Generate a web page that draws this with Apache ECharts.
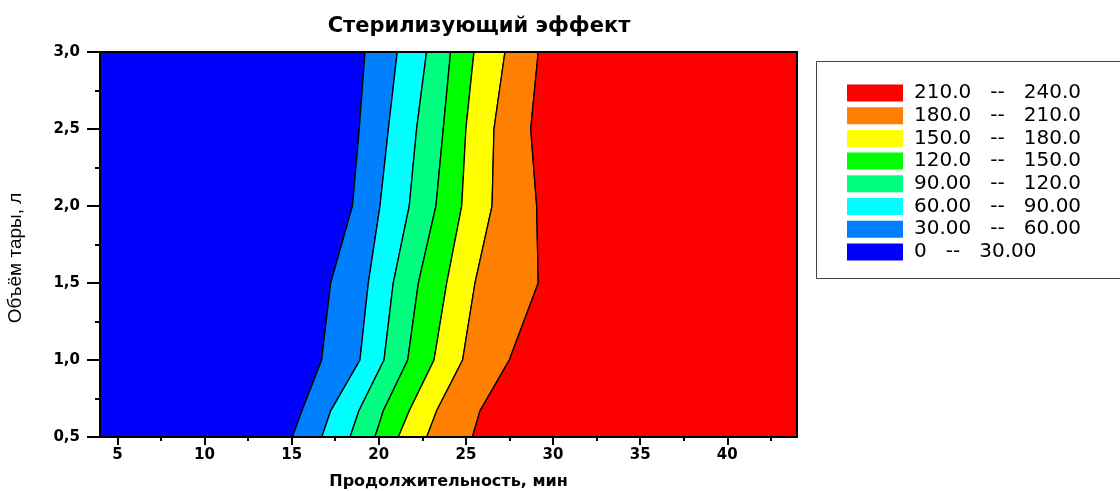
<!DOCTYPE html>
<html>
<head>
<meta charset="utf-8">
<script src="https://cdn.jsdelivr.net/npm/echarts@6/dist/echarts.min.js"></script>
<style>
  html, body { margin: 0; padding: 0; background: #fff; }
  #chart { width: 1120px; height: 491px; }
</style>
</head>
<body>
<div id="chart"></div>
<script>
// ---- data ----
const yLevels = [0.5, 0.67, 1.0, 1.5, 2.0, 2.5, 3.0];
// x positions (min) of each contour line at the y levels above
const iso30  = [15.04, 15.59, 16.72, 17.24, 18.49, 18.88, 19.21];
const iso60  = [16.73, 17.24, 18.92, 19.40, 20.07, 20.55, 21.06];
const iso90  = [18.35, 18.86, 20.30, 20.83, 21.75, 22.17, 22.74];
const iso120 = [19.78, 20.26, 21.66, 22.27, 23.28, 23.70, 24.12];
const iso150 = [21.12, 21.75, 23.17, 23.90, 24.76, 25.00, 25.46];
const iso180 = [22.75, 23.32, 24.81, 25.52, 26.50, 26.61, 27.24];
const iso210 = [25.37, 25.81, 27.49, 29.15, 29.06, 28.72, 29.15];
const bandLabels = ['0  --  30.00', '30.00  --  60.00', '60.00  --  90.00', '90.00  --  120.0',
                    '120.0  --  150.0', '150.0  --  180.0', '180.0  --  210.0', '210.0  --  240.0'];
const xTickValues = [5, 10, 15, 20, 25, 30, 35, 40];
const xMinorTickValues = [7.5, 12.5, 17.5, 22.5, 27.5, 32.5, 37.5, 42.5];
const xMin = 4, xMax = 44, yMin = 0.5, yMax = 3.0, yInterval = 0.5;

// ---- styles ----
const bandColors = ['#0000ff', '#0080ff', '#00ffff', '#00ff80', '#00ff00', '#ffff00', '#ff8000', '#ff0000'];
const titleText = 'Стерилизующий эффект';
const xName = 'Продолжительность, мин';
const yName = 'Объём тары, л';

const leftEdge = yLevels.map(() => xMin);
const rightEdge = yLevels.map(() => xMax);
const edges = [leftEdge, iso30, iso60, iso90, iso120, iso150, iso180, iso210, rightEdge];

const series = bandLabels.map((name, i) => ({
  type: 'custom',
  name: name,
  coordinateSystem: 'cartesian2d',
  xAxisIndex: 0,
  yAxisIndex: 0,
  itemStyle: { color: bandColors[i] },
  data: [[xMin, yMin]],
  silent: true,
  renderItem: function (params, api) {
    const L = edges[i], R = edges[i + 1];
    const pts = [];
    for (let k = 0; k < yLevels.length; k++) pts.push(api.coord([L[k], yLevels[k]]));
    for (let k = yLevels.length - 1; k >= 0; k--) pts.push(api.coord([R[k], yLevels[k]]));
    return {
      type: 'polygon',
      shape: { points: pts },
      style: { fill: bandColors[i], stroke: '#000', lineWidth: 1.3 }
    };
  }
}));

const chart = echarts.init(document.getElementById('chart'), null, { renderer: 'canvas' });
const boldFont = '"DejaVu Sans", "Liberation Sans", sans-serif';

chart.setOption({
  animation: false,
  backgroundColor: '#fff',
  title: {
    text: titleText,
    left: 474,
    top: 11,
    textAlign: 'center',
    textStyle: { fontFamily: boldFont, fontWeight: 'bold', fontSize: 21, color: '#000' }
  },
  grid: { left: 100, right: 323, top: 52, bottom: 54, containLabel: false, outerBoundsMode: 'none' },
  legend: {
    data: bandLabels.slice().reverse(),
    orient: 'vertical',
    left: 847,
    top: 83,
    padding: 0,
    icon: 'rect',
    itemWidth: 56,
    itemHeight: 17,
    itemGap: 2.7,
    selectedMode: false,
    itemStyle: { borderWidth: 0 },
    formatter: function (n) { return n.replace('  --  ', '   --   '); },
    textStyle: { fontFamily: boldFont, fontSize: 20, color: '#000', lineHeight: 17, padding: [0, 0, 0, 6] }
  },
  graphic: [
    {
      type: 'rect',
      z: 1,
      shape: { x: 816.5, y: 61.5, width: 320, height: 217 },
      style: { fill: '#fff', stroke: '#444', lineWidth: 1 }
    },
    {
      type: 'text',
      z: 10,
      x: 16,
      y: 258,
      rotation: Math.PI / 2,
      style: {
        text: yName,
        align: 'center',
        verticalAlign: 'middle',
        fontFamily: '"Liberation Sans", Arial, sans-serif',
        fontSize: 19,
        fill: '#000'
      }
    }
  ],
  xAxis: [
    {
      type: 'value', min: xMin, max: xMax, position: 'bottom', z: 10,
      name: xName, nameLocation: 'middle', nameGap: 37,
      nameTextStyle: { fontFamily: boldFont, fontWeight: 'bold', fontSize: 16, color: '#000' },
      axisLine: { show: true, lineStyle: { color: '#000', width: 2 } },
      axisTick: { show: true, customValues: xTickValues, length: 8, lineStyle: { color: '#000', width: 2 } },
      axisLabel: { customValues: xTickValues, margin: 11, color: '#000', fontFamily: boldFont, fontWeight: 'bold', fontSize: 15 },
      splitLine: { show: false }
    },
    {
      type: 'value', min: xMin, max: xMax, position: 'bottom', offset: 0, z: 10,
      axisLine: { show: false },
      axisTick: { show: true, customValues: xMinorTickValues, length: 4, lineStyle: { color: '#000', width: 2 } },
      axisLabel: { show: false },
      splitLine: { show: false }
    },
    {
      type: 'value', min: xMin, max: xMax, position: 'top', z: 10,
      axisLine: { show: true, lineStyle: { color: '#000', width: 2 } },
      axisTick: { show: false }, axisLabel: { show: false }, splitLine: { show: false }
    }
  ],
  yAxis: [
    {
      type: 'value', min: yMin, max: yMax, interval: yInterval, position: 'left', z: 10,
      axisLine: { show: true, lineStyle: { color: '#000', width: 2 } },
      axisTick: { show: true, length: 13, lineStyle: { color: '#000', width: 2 } },
      minorTick: { show: true, splitNumber: 2, length: 5, lineStyle: { color: '#000', width: 2 } },
      axisLabel: {
        margin: 20, color: '#000', fontFamily: boldFont, fontWeight: 'bold', fontSize: 15,
        formatter: function (v) { return v.toFixed(1).replace('.', ','); }
      },
      splitLine: { show: false }, minorSplitLine: { show: false }
    },
    {
      type: 'value', min: yMin, max: yMax, position: 'right', z: 10,
      axisLine: { show: true, lineStyle: { color: '#000', width: 2 } },
      axisTick: { show: false }, axisLabel: { show: false }, splitLine: { show: false }
    }
  ],
  series: series
});
</script>
</body>
</html>
